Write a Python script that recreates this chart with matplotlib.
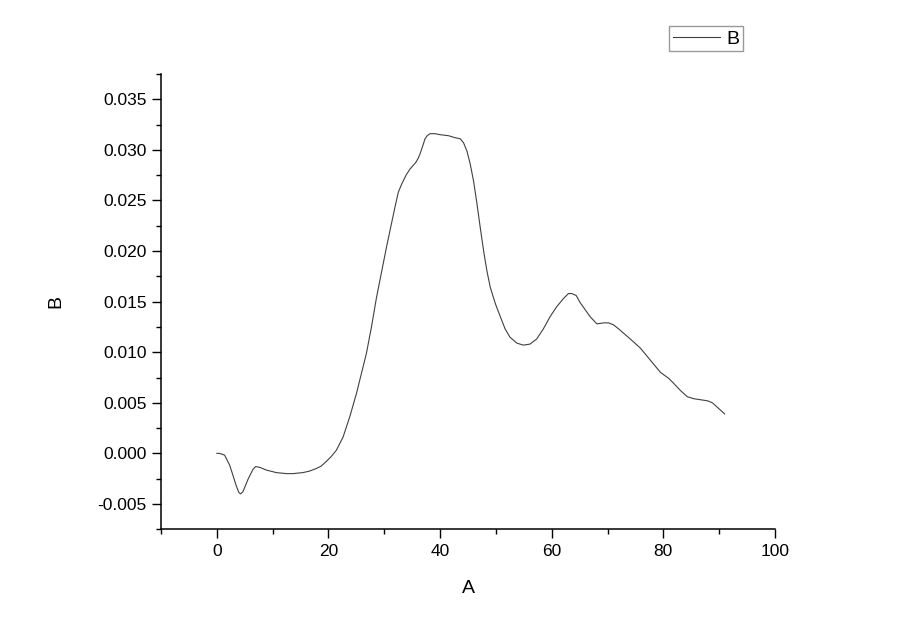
import matplotlib
matplotlib.use("Agg")
import matplotlib.pyplot as plt
from matplotlib.ticker import MultipleLocator, FormatStrFormatter

x_vals = [0, 0.48, 1.38, 2.28, 2.76, 3.48, 3.95, 4.25, 4.67, 5.57, 6.46, 6.95,
          7.67, 8.87, 10.66, 12.5, 13.6, 15.4, 16.6, 17.8, 18.7, 19.6, 20.5,
          21.4, 22.6, 23.8, 25.0, 25.9, 26.8, 27.7, 28.6, 29.5, 30.4, 31.2,
          31.9, 32.5, 33.1, 33.9, 34.6, 35.7, 36.1, 36.4, 36.9, 37.3, 37.7,
          38.2, 39.1, 40.0, 41.5, 42.7, 43.6, 44.2, 44.8, 45.4, 46.0, 46.6,
          47.2, 47.8, 48.4, 49.0, 49.9, 50.8, 51.65, 52.5, 53.75, 54.9, 56.1,
          57.3, 58.5, 59.7, 60.9, 62.1, 63.0, 63.6, 64.4, 65.1, 66.0, 66.9,
          68.1, 69.3, 70.2, 71.1, 72.0, 74.1, 75.9, 77.7, 79.5, 81.0, 81.9,
          83.1, 84.3, 85.5, 86.7, 87.9, 88.8, 90.0, 91.0]
y_vals = [0.0, 0.0, -0.00017, -0.00115, -0.00197, -0.00322, -0.00388, -0.0040,
          -0.00378, -0.00257, -0.00158, -0.0013, -0.00138, -0.00165, -0.0019,
          -0.0020, -0.0020, -0.0019, -0.00175, -0.0015, -0.00125, -0.0008,
          -0.0003, 0.0003, 0.0016, 0.0036, 0.0059, 0.0079, 0.0099, 0.0125,
          0.0154, 0.0179, 0.0204, 0.0225, 0.0243, 0.0258, 0.0266, 0.0275,
          0.0281, 0.0288, 0.0292, 0.0296, 0.0304, 0.0311, 0.0314, 0.0316,
          0.0316, 0.0315, 0.0314, 0.0312, 0.0311, 0.0307, 0.0299, 0.0286,
          0.0269, 0.0247, 0.0223, 0.0200, 0.0180, 0.0164, 0.0148, 0.0135,
          0.0123, 0.0115, 0.0109, 0.0107, 0.0108, 0.0113, 0.0123, 0.0135,
          0.0145, 0.0153, 0.0158, 0.0158, 0.0156, 0.0149, 0.0142, 0.0135,
          0.0128, 0.0129, 0.0129, 0.0127, 0.0123, 0.0113, 0.0104, 0.0092,
          0.0080, 0.0074, 0.0069, 0.0062, 0.0056, 0.0054, 0.0053, 0.0052,
          0.0050, 0.0044, 0.0039]
series_name = "B"
x_label = "A"
y_label = "B"

plt.rcParams['font.family'] = ['Liberation Sans', 'DejaVu Sans']

fig = plt.figure(figsize=(9, 6.35), dpi=100)
ax = fig.add_axes([0.179, 0.1665, 0.682, 0.717])

ax.plot(x_vals, y_vals, color='#404040', linewidth=0.8, label=series_name)

ax.set_xlim(-10, 100)
ax.set_ylim(-0.0075, 0.0375)
ax.xaxis.set_major_locator(MultipleLocator(20))
ax.xaxis.set_minor_locator(MultipleLocator(10))
ax.yaxis.set_major_locator(MultipleLocator(0.005))
ax.yaxis.set_minor_locator(MultipleLocator(0.0025))
ax.yaxis.set_major_formatter(FormatStrFormatter('%.3f'))

for s in ['top', 'right']:
    ax.spines[s].set_visible(False)
for s in ['left', 'bottom']:
    ax.spines[s].set_linewidth(1.1)
    ax.spines[s].set_color('black')

ax.tick_params(which='major', direction='out', length=6.5, width=1.0,
               labelsize=12.5, pad=4)
ax.tick_params(which='minor', direction='out', length=3.6, width=1.0)

ax.set_xlabel(x_label, fontsize=14, labelpad=15)
ax.set_ylabel(y_label, fontsize=14, labelpad=24)

leg = fig.legend(loc='upper left', bbox_to_anchor=(669/900, 1 - 26/635),
                 fontsize=14, frameon=True, fancybox=False, handlelength=2.4,
                 borderpad=0.2, handletextpad=0.35, borderaxespad=0)
leg.get_frame().set_edgecolor('#808080')
leg.get_frame().set_linewidth(1.0)

fig.savefig('out.png', dpi=100)
